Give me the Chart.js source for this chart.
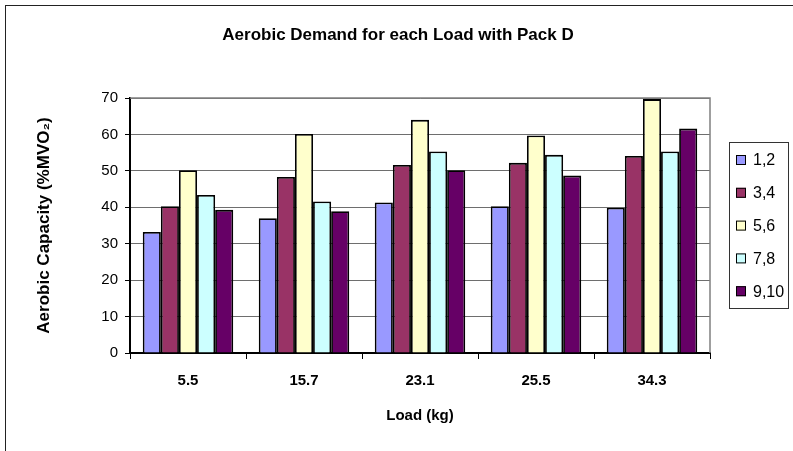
<!DOCTYPE html>
<html>
<head>
<meta charset="utf-8">
<script src="https://cdn.jsdelivr.net/npm/chart.js@4.4.1/dist/chart.umd.min.js"></script>
<style>
    body { margin: 0; background: #fff; }
    #wrap { width: 793px; height: 451px; }
</style>
</head>
<body>
<div id="wrap"><canvas id="myChart" width="793" height="451"></canvas></div>
<script>
// data
const loads = ["5.5", "15.7", "23.1", "25.5", "34.3"];
const seriesNames = ["1,2", "3,4", "5,6", "7,8", "9,10"];
const s12 = [33.2, 37, 41.3, 40.3, 39.9];
const s34 = [40.3, 48.3, 51.6, 52.2, 54.1];
const s56 = [50.2, 60.1, 64, 59.7, 69.7];
const s78 = [43.4, 41.6, 55.3, 54.4, 55.3];
const s910 = [39.3, 38.9, 50.2, 48.7, 61.6];
const yTicks = [0, 10, 20, 30, 40, 50, 60, 70];

const colors = ["#9999FF", "#993366", "#FFFFCC", "#CCFFFF", "#660066"];
const FONT = "'Liberation Sans', Arial, sans-serif";

const allSeries = [s12, s34, s56, s78, s910];
const datasets = [];
for (var i = 0; i < allSeries.length; i++) {
    datasets.push({
        label: seriesNames[i],
        data: allSeries[i],
        backgroundColor: colors[i],
        borderColor: "#000",
        borderWidth: 1.8,
        borderSkipped: "bottom",
        categoryPercentage: 0.78,
        barPercentage: 1,
    });
}

// frame, plot border, title and legend box
const decor = {
    id: "decor",
    beforeDraw(chart) {
        const ctx = chart.ctx;
        ctx.save();
        ctx.fillStyle = "#fff";
        ctx.fillRect(0, 0, chart.width, chart.height);
        ctx.strokeStyle = "#222";
        ctx.lineWidth = 1;
        ctx.strokeRect(5.5, 5.5, chart.width + 10, chart.height + 10);
        ctx.restore();
    },
    beforeDatasetsDraw(chart) {
        const { ctx, chartArea } = chart;
        ctx.save();
        ctx.strokeStyle = "#808080";
        ctx.lineWidth = 1.5;
        ctx.beginPath();
        ctx.moveTo(chartArea.left, chartArea.top);
        ctx.lineTo(chartArea.right, chartArea.top);
        ctx.lineTo(chartArea.right, chartArea.bottom);
        ctx.stroke();
        ctx.restore();
    },
    afterDraw(chart) {
        const ctx = chart.ctx;
        ctx.save();
        // title
        ctx.fillStyle = "#000";
        ctx.font = "bold 17px " + FONT;
        ctx.textAlign = "center";
        ctx.textBaseline = "middle";
        ctx.fillText("Aerobic Demand for each Load with Pack D", 398, 35);

        // legend
        ctx.strokeStyle = "#333";
        ctx.lineWidth = 1;
        ctx.strokeRect(729.5, 142.5, 59, 166);
        ctx.font = "16px " + FONT;
        ctx.textAlign = "left";
        const ds = chart.data.datasets;
        for (var k = 0; k < ds.length; k++) {
            var y = 160 + k * 32.8;
            ctx.fillStyle = ds[k].backgroundColor;
            ctx.fillRect(736, y - 5, 10, 10);
            ctx.strokeStyle = "#000";
            ctx.strokeRect(736.5, y - 4.5, 9, 9);
            ctx.fillStyle = "#000";
            ctx.fillText(ds[k].label, 753, y + 1);
        }
        ctx.restore();
    },
};

const config = {
    type: "bar",
    data: { labels: loads, datasets: datasets },
    plugins: [decor],
    options: {
        responsive: false,
        animation: false,
        layout: { padding: { left: 0, top: 98, right: 83, bottom: 0 } },
        plugins: {
            legend: { display: false },
            title: { display: false },
            tooltip: { enabled: false },
        },
        scales: {
            x: {
                offset: true,
                grid: {
                    offset: true,
                    drawOnChartArea: false,
                    drawTicks: true,
                    tickLength: 6,
                    tickColor: "#000",
                    lineWidth: 1,
                },
                border: { color: "#000", width: 2 },
                ticks: {
                    color: "#000",
                    padding: 13,
                    font: { family: FONT, size: 15, weight: "bold" },
                },
                title: {
                    display: true,
                    text: "Load (kg)",
                    color: "#000",
                    font: { family: FONT, size: 15, weight: "bold" },
                    padding: { top: 0, bottom: 26 },
                },
                afterFit: function (scale) {
                    scale.height = 98;
                },
            },
            y: {
                min: 0,
                max: 70,
                afterBuildTicks: function (scale) {
                    scale.ticks = yTicks.map(function (v) { return { value: v }; });
                },
                grid: {
                    color: "#6e6e6e",
                    lineWidth: 1,
                    tickLength: 5,
                    tickColor: "#000",
                },
                border: { color: "#000", width: 2 },
                ticks: {
                    color: "#000",
                    padding: 7,
                    font: { family: FONT, size: 15 },
                },
                title: {
                    display: true,
                    text: "Aerobic Capacity (%MVO\u2082)",
                    color: "#000",
                    font: { family: FONT, size: 17, weight: "bold" },
                    padding: { top: 34, bottom: 0 },
                },
                afterFit: function (scale) {
                    scale.width = 130;
                },
            },
        },
    },
};

const myChart = new Chart(document.getElementById("myChart"), config);
</script>
</body>
</html>
